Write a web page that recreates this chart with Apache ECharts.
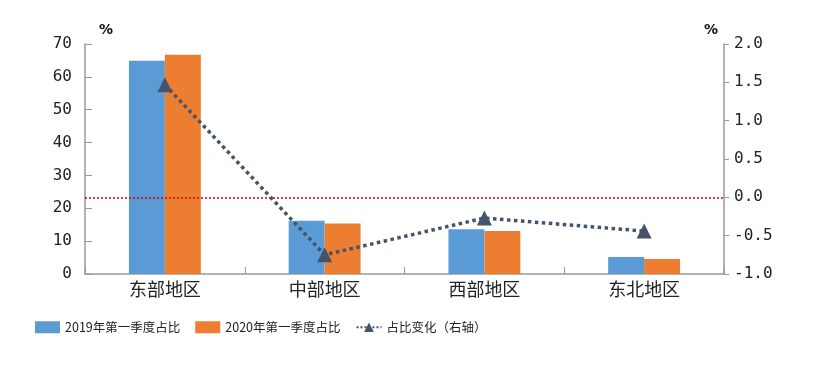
<!DOCTYPE html>
<html><head><meta charset="utf-8">
<script src="https://cdn.jsdelivr.net/npm/echarts@6/dist/echarts.min.js"></script>
<style>html,body{margin:0;padding:0;background:#fff}#c{width:818px;height:373px}</style>
</head><body><div id="c"></div>
<script>
const categories = ['东部地区', '中部地区', '西部地区', '东北地区'];
const share2019 = [64.9, 16.2, 13.6, 5.2];
const share2020 = [66.7, 15.4, 13.1, 4.6];
const shareChange = [1.47, -0.75, -0.27, -0.44];
const leftTicks = {min: 0, max: 70, interval: 10};
const rightTicks = {min: -1.0, max: 2.0, interval: 0.5};

const chart = echarts.init(document.getElementById('c'));
const font = '"Noto Sans CJK SC", "Liberation Sans", sans-serif';
const mono = '"DejaVu Sans Mono", "Liberation Mono", monospace';
chart.setOption({
  animation: false,
  textStyle: {fontFamily: font},
  grid: {left: 85, right: 94, top: 44, bottom: 99},
  legend: {
    left: 30, top: 316, itemGap: 15, itemWidth: 25, itemHeight: 12,
    textStyle: {fontSize: 12.5, color: '#222', fontFamily: font},
    data: [
      {name: '2019年第一季度占比', icon: 'rect'},
      {name: '2020年第一季度占比', icon: 'rect'},
      {name: '占比变化（右轴）'}
    ]
  },
  graphic: [
    {type: 'text', left: 99, top: 23, style: {text: '%', fontSize: 14, fontWeight: 'bold', fill: '#111', fontFamily: '"DejaVu Sans", sans-serif'}},
    {type: 'text', left: 704, top: 23, style: {text: '%', fontSize: 14, fontWeight: 'bold', fill: '#111', fontFamily: '"DejaVu Sans", sans-serif'}}
  ],
  xAxis: {
    type: 'category', data: categories,
    axisLine: {lineStyle: {color: '#999', width: 1.5}},
    axisTick: {show: true, inside: true, length: 7, lineStyle: {color: '#999'}},
    axisLabel: {fontSize: 18, color: '#222', margin: 6}
  },
  yAxis: [
    {type: 'value', min: leftTicks.min, max: leftTicks.max, interval: leftTicks.interval,
     splitLine: {show: false},
     axisLine: {show: true, lineStyle: {color: '#999', width: 1.5}},
     axisTick: {show: true, inside: true, length: 7, lineStyle: {color: '#999'}},
     axisLabel: {fontSize: 16, color: '#222', margin: 13, fontFamily: mono}},
    {type: 'value', min: rightTicks.min, max: rightTicks.max, interval: rightTicks.interval,
     position: 'right', splitLine: {show: false},
     axisLine: {show: true, lineStyle: {color: '#999', width: 1.5}},
     axisTick: {show: true, length: 5, lineStyle: {color: '#999'}},
     axisLabel: {fontSize: 16, color: '#222', margin: 10, fontFamily: mono,
       formatter: v => v.toFixed(1)}}
  ],
  series: [
    {name: '2019年第一季度占比', type: 'bar', data: share2019, barGap: '0%', barCategoryGap: '55%',
     itemStyle: {color: '#5B9BD5'}},
    {name: '2020年第一季度占比', type: 'bar', data: share2020,
     itemStyle: {color: '#ED7D31'}},
    {name: '占比变化（右轴）', type: 'line', yAxisIndex: 1, data: shareChange,
     symbol: 'triangle', symbolSize: 15,
     lineStyle: {type: 'dotted', width: 3.5, color: '#44546A'},
     itemStyle: {color: '#44546A'},
     z: 5,
     markLine: {silent: true, symbol: 'none', label: {show: false},
       lineStyle: {type: [2, 2], color: '#D40000', width: 1.5, opacity: 1},
       emphasis: {disabled: true},
       data: [{yAxis: 0}]}}
  ]
});
</script></body></html>
